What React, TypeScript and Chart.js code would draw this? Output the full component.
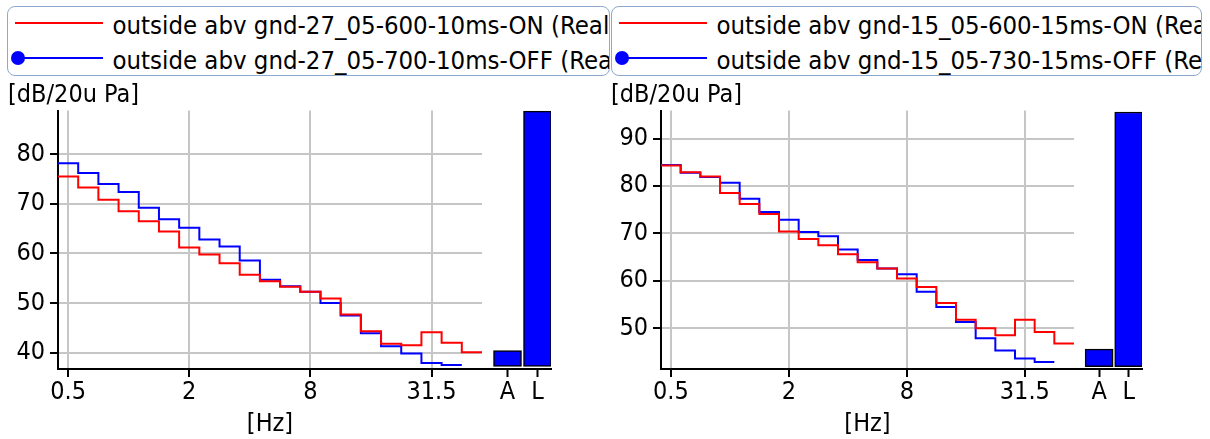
import React, { useEffect, useRef } from 'react';
import { Chart, registerables } from 'chart.js';

Chart.register(...registerables);

// 1/3-octave band centre frequencies (Hz)
const BANDS = ['0.5', '0.63', '0.8', '1', '1.25', '1.6', '2', '2.5', '3.15', '4', '5', '6.3', '8', '10', '12.5', '16', '20', '25', '31.5', '40', '50'];
const X_TICK_LABELS = ['0.5', '2', '8', '31.5'];
const BAR_LABELS = ['A', 'L'];

const Y_TITLE = '[dB/20u Pa]';
const X_TITLE = '[Hz]';

// Left panel
const LEFT_LABEL_ON = 'outside abv gnd-27_05-600-10ms-ON (Real';
const LEFT_LABEL_OFF = 'outside abv gnd-27_05-700-10ms-OFF (Real';
const LEFT_ON = [75.5, 73.3, 70.8, 68.5, 66.5, 64.4, 61.2, 59.8, 58.0, 55.7, 54.4, 53.3, 52.3, 50.9, 47.7, 44.3, 41.8, 41.5, 44.1, 42.0, 40.1];
const LEFT_OFF = [78.2, 76.2, 74.0, 72.4, 69.2, 66.9, 65.2, 62.8, 61.4, 58.6, 54.7, 53.4, 52.3, 50.0, 47.5, 43.9, 41.3, 39.8, 37.9, 37.5];
const LEFT_BARS = [40.4, 88.7];
const LEFT_Y_TICKS = [40, 50, 60, 70, 80];
const LEFT_Y_MIN = 36.7;
const LEFT_Y_MAX = 88.8;

// Right panel
const RIGHT_LABEL_ON = 'outside abv gnd-15_05-600-15ms-ON (Real';
const RIGHT_LABEL_OFF = 'outside abv gnd-15_05-730-15ms-OFF (Real';
const RIGHT_ON = [84.3, 82.9, 82.0, 78.5, 76.2, 74.1, 70.4, 68.8, 67.5, 65.6, 63.9, 62.6, 60.5, 58.7, 55.3, 51.8, 50.0, 48.5, 51.8, 49.2, 46.8];
const RIGHT_OFF = [84.4, 82.8, 81.9, 80.7, 77.3, 74.5, 72.9, 70.3, 69.4, 66.6, 64.4, 62.6, 61.4, 57.7, 54.5, 51.3, 47.9, 45.3, 43.6, 42.9];
const RIGHT_BARS = [45.6, 95.6];
const RIGHT_Y_TICKS = [50, 60, 70, 80, 90];
const RIGHT_Y_MIN = 41.4;
const RIGHT_Y_MAX = 95.9;

const FONT_FAMILY = "'DejaVu Sans Condensed', 'DejaVu Sans', sans-serif";
const FONT_SIZE = 25;
const LEGEND_FONT_SIZE = 25.5;
const FONT = { family: FONT_FAMILY, size: FONT_SIZE, lineHeight: 1.2, weight: 'normal' };
const RED = '#ff0000';
const BLUE = '#0000ff';
const GRID = '#c6c6c6';
const LEGEND_BORDER = '#8ea9cf';

const CANVAS_TOP = 80;
const CANVAS_H = 359;
const TITLE_PAD_TOP = 0.6;
const X_TITLE_PAD = { top: 2, bottom: 0 };
const X_TICK_PAD = 0;

function stepPoints(values: number[]) {
  const pts = values.map((v, i) => ({ x: i - 0.5, y: v }));
  pts.push({ x: values.length - 0.5, y: values[values.length - 1] });
  return pts;
}

function SpectrumChart(props: { left: number; width: number; on: number[]; off: number[]; labels: string[]; yMin: number; yMax: number; yTicks: number[] }) {
  const ref = useRef<HTMLCanvasElement>(null);
  useEffect(() => {
    const chart = new Chart(ref.current as HTMLCanvasElement, {
      type: 'line',
      data: {
        datasets: [
          { label: props.labels[0], data: stepPoints(props.on), borderColor: RED, backgroundColor: RED, borderWidth: 2, stepped: 'before', pointRadius: 0, fill: false },
          { label: props.labels[1], data: stepPoints(props.off), borderColor: BLUE, backgroundColor: BLUE, borderWidth: 2, stepped: 'before', pointRadius: 0, fill: false },
        ],
      },
      options: {
        responsive: false,
        animation: false,
        devicePixelRatio: 1,
        layout: { padding: 0 },
        plugins: {
          legend: { display: false },
          tooltip: { enabled: false },
          title: { display: true, text: Y_TITLE, align: 'start', color: '#000', font: FONT, padding: { top: TITLE_PAD_TOP, bottom: 0 } },
        },
        scales: {
          x: {
            type: 'linear',
            min: -0.5,
            max: BANDS.length - 0.5,
            afterBuildTicks: (s: any) => { s.ticks = X_TICK_LABELS.map((l) => ({ value: BANDS.indexOf(l) })); },
            ticks: { callback: (v: any) => BANDS[v] ?? '', color: '#000', font: FONT, padding: X_TICK_PAD, maxRotation: 0, autoSkip: false },
            grid: { color: GRID, lineWidth: 2, tickLength: 8, tickColor: '#000', tickWidth: 2 },
            border: { display: true, color: '#000', width: 2 },
            title: { display: true, text: X_TITLE, color: '#000', font: FONT, padding: X_TITLE_PAD },
          },
          y: {
            min: props.yMin,
            max: props.yMax,
            afterBuildTicks: (s: any) => { s.ticks = props.yTicks.map((v) => ({ value: v })); },
            afterFit: (s: any) => { s.width = 50; },
            ticks: { color: '#000', font: FONT, padding: 5 },
            grid: { color: GRID, lineWidth: 2, tickLength: 8, tickColor: '#000', tickWidth: 2 },
            border: { display: true, color: '#000', width: 2 },
          },
        },
      } as any,
    });
    return () => chart.destroy();
  }, []);
  return <canvas ref={ref} width={props.width} height={CANVAS_H} style={{ position: 'absolute', left: props.left, top: CANVAS_TOP, width: props.width, height: CANVAS_H }} />;
}

function BarsChart(props: { left: number; width: number; padRight: number; values: number[]; yMin: number; yMax: number }) {
  const ref = useRef<HTMLCanvasElement>(null);
  useEffect(() => {
    const titleH = TITLE_PAD_TOP + FONT_SIZE * 1.2;
    const xTitleH = FONT_SIZE * 1.2 + X_TITLE_PAD.top + X_TITLE_PAD.bottom;
    const chart = new Chart(ref.current as HTMLCanvasElement, {
      type: 'bar',
      data: {
        datasets: [
          {
            data: props.values.map((v, i) => ({ x: i, y: v })),
            backgroundColor: BLUE,
            borderColor: '#000',
            borderWidth: 1.5,
            borderSkipped: false,
            barThickness: 28,
            base: props.yMin + 0.5,
          },
        ],
      },
      options: {
        responsive: false,
        animation: false,
        devicePixelRatio: 1,
        layout: { padding: { top: titleH, bottom: xTitleH, left: 0, right: props.padRight } },
        plugins: { legend: { display: false }, tooltip: { enabled: false } },
        scales: {
          x: {
            type: 'linear',
            min: -0.85,
            max: 1.45,
            offset: false,
            afterBuildTicks: (s: any) => { s.ticks = BAR_LABELS.map((_, i) => ({ value: i })); },
            ticks: { callback: (v: any) => BAR_LABELS[v] ?? '', color: '#000', font: FONT, padding: X_TICK_PAD, maxRotation: 0, autoSkip: false },
            grid: { drawOnChartArea: false, offset: false, tickLength: 8, tickColor: '#000', tickWidth: 2 },
            border: { display: true, color: '#000', width: 2 },
          },
          y: { display: false, min: props.yMin, max: props.yMax },
        },
      } as any,
    });
    return () => chart.destroy();
  }, []);
  return <canvas ref={ref} width={props.width} height={CANVAS_H} style={{ position: 'absolute', left: props.left, top: CANVAS_TOP, width: props.width, height: CANVAS_H }} />;
}

function LegendBox(props: { left: number; width: number; labels: string[] }) {
  const rows = [
    { color: RED, marker: false, y: 16 },
    { color: BLUE, marker: true, y: 50.5 },
  ];
  return (
    <div style={{ position: 'absolute', left: props.left, top: 6, width: props.width, height: 70, boxSizing: 'border-box', border: `1.5px solid ${LEGEND_BORDER}`, borderRadius: 8, overflow: 'hidden', background: '#fff' }}>
      {rows.map((r, i) => (
        <React.Fragment key={i}>
          <div style={{ position: 'absolute', left: 6.5, top: r.y - 1, width: 88, height: 2, background: r.color }} />
          {r.marker && <div style={{ position: 'absolute', left: 3, top: r.y - 7, width: 14, height: 14, borderRadius: '50%', background: r.color }} />}
          <span style={{ position: 'absolute', left: 104.5, top: r.y - 13, whiteSpace: 'nowrap', fontFamily: FONT_FAMILY, fontSize: LEGEND_FONT_SIZE, lineHeight: '30px', color: '#000' }}>{props.labels[i]}</span>
        </React.Fragment>
      ))}
    </div>
  );
}

export default function App() {
  return (
    <div style={{ position: 'fixed', left: 0, top: 0, width: 1210, height: 439, background: '#fff', overflow: 'hidden' }}>
      <LegendBox left={7} width={603} labels={[LEFT_LABEL_ON, LEFT_LABEL_OFF]} />
      <LegendBox left={611} width={591} labels={[RIGHT_LABEL_ON, RIGHT_LABEL_OFF]} />
      <SpectrumChart left={8} width={474} on={LEFT_ON} off={LEFT_OFF} labels={[LEFT_LABEL_ON, LEFT_LABEL_OFF]} yMin={LEFT_Y_MIN} yMax={LEFT_Y_MAX} yTicks={LEFT_Y_TICKS} />
      <BarsChart left={482} width={127} padRight={58} values={LEFT_BARS} yMin={LEFT_Y_MIN} yMax={LEFT_Y_MAX} />
      <SpectrumChart left={611} width={463} on={RIGHT_ON} off={RIGHT_OFF} labels={[RIGHT_LABEL_ON, RIGHT_LABEL_OFF]} yMin={RIGHT_Y_MIN} yMax={RIGHT_Y_MAX} yTicks={RIGHT_Y_TICKS} />
      <BarsChart left={1074} width={128} padRight={60} values={RIGHT_BARS} yMin={RIGHT_Y_MIN} yMax={RIGHT_Y_MAX} />
    </div>
  );
}
